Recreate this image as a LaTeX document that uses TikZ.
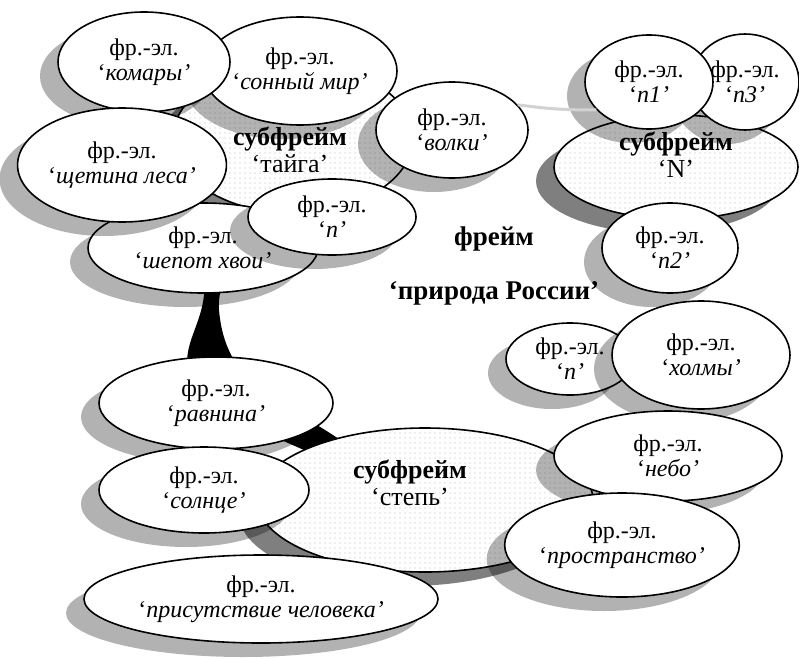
\documentclass[tikz,border=0pt]{standalone}
\usepackage{fontspec}
\setmainfont{Liberation Serif}
\usetikzlibrary{shapes.geometric,shadows,patterns.meta}
\pgfdeclarelayer{bg}
\pgfsetlayers{bg,main}
\begin{document}
\begin{tikzpicture}[x=1pt,y=-1pt,
  elem/.style={ellipse, draw, line width=1.6pt, fill=white, inner sep=0pt, align=center,
    font=\fontsize{24}{25}\selectfont,
    drop shadow={shadow xshift=-18pt, shadow yshift=-14pt, fill=black, opacity=0.3}},
  subframe/.style={ellipse, draw, line width=1.6pt,
    drop shadow={shadow xshift=-18pt, shadow yshift=-14pt, fill=black, opacity=0.5},
    preaction={fill=white}, pattern={Dots[distance=5pt,radius=0.6pt]},
    pattern color=gray!55, inner sep=0pt},
  subtext/.style={align=center, font=\fontsize{26}{27}\selectfont},
  frametext/.style={align=center, font=\bfseries\fontsize{27}{30}\selectfont},
  sz/.style 2 args={minimum width=#1pt, minimum height=#2pt},
  link/.style={draw=gray!35, line width=3pt},
  wedge/.style={fill=black}
]
\useasboundingbox (0,0) rectangle (799,658);

% --- subframe "taiga" and its frame elements
\node[subframe, sz={240}{150}] (taiga) at (293,138) {};
\node[subtext] (taigatext) at (290,150) {\textbf{субфрейм}\\‘тайга’};
\node[elem, sz={194}{108}] (sonny) at (300,71) {фр.-эл.\\‘\textit{сонный мир’}};
\node[elem, sz={172}{100}] (komary) at (144,62) {фр.-эл.\\‘\textit{комары’}};
\node[elem, sz={152}{96}] (volki) at (452,130) {фр.-эл.\\‘\textit{волки’}};
\node[elem, sz={230}{90}] (shepot) at (203,248) {фр.-эл.\\‘\textit{шепот хвои’}};
\node[elem, sz={194}{114}] (shchetina) at (122,165) {фр.-эл.\\‘\textit{щетина леса’}};
\node[elem, sz={168}{76}] (ntaiga) at (332,217) {фр.-эл.\\‘\textit{n’}};

% --- subframe "N"
\node[subframe, sz={244}{104}] (nsub) at (676,167) {};
\node[subtext] (nsubtext) at (676,155) {\textbf{субфрейм}\\‘N’};
\node[elem, sz={108}{96}] (nthree) at (745,82) {фр.-эл.\\‘\textit{n3’}};
\node[elem, sz={128}{94}] (none) at (649,82) {фр.-эл.\\‘\textit{n1’}};
\node[elem, sz={136}{90}] (ntwo) at (670,248) {фр.-эл.\\‘\textit{n2’}};
\draw[link] (volki.21) to[bend right=4] (none.208);

% --- the frame itself
\node[frametext] (frame) at (494,266) {фрейм\\[24pt]‘природа России’};

% --- subframe "steppe"
\node[subframe, sz={336}{144}] (steppe) at (425,500) {};
\node[subtext] (steppetext) at (410,483) {\textbf{субфрейм}\\‘степь’};
\node[elem, sz={128}{72}] (nstep) at (570,359) {фр.-эл.\\‘\textit{n’}};
\node[elem, sz={178}{108}] (holmy) at (701,355) {фр.-эл.\\‘\textit{холмы’}};
\node[elem, sz={228}{90}] (nebo) at (668,456) {фр.-эл.\\‘\textit{небо’}};
\node[elem, sz={230}{104}] (prostr) at (622,545) {фр.-эл.\\‘\textit{пространство’}};
\node[elem, sz={234}{92}] (ravnina) at (216,403) {фр.-эл.\\‘\textit{равнина’}};
\node[elem, sz={210}{86}] (solnce) at (204,490) {фр.-эл.\\‘\textit{солнце’}};
\node[elem, sz={354}{88}] (prisut) at (261,599) {фр.-эл.\\‘\textit{присутствие человека’}};

% --- tapering link from "taiga" down to "steppe", kept beneath everything
\begin{pgfonlayer}{bg}
\fill[wedge] (taiga.center) .. controls (230,220) and (207,260) .. (204,295)
  .. controls (201,325) and (183,345) .. (188,370)
  .. controls (195,410) and (280,440) .. (steppe.center)
  .. controls (365,455) and (332,434) .. (312,422)
  .. controls (260,395) and (224,370) .. (219,310)
  .. controls (216,290) and (240,200) .. (taiga.center) -- cycle;
\end{pgfonlayer}
\end{tikzpicture}
\end{document}
